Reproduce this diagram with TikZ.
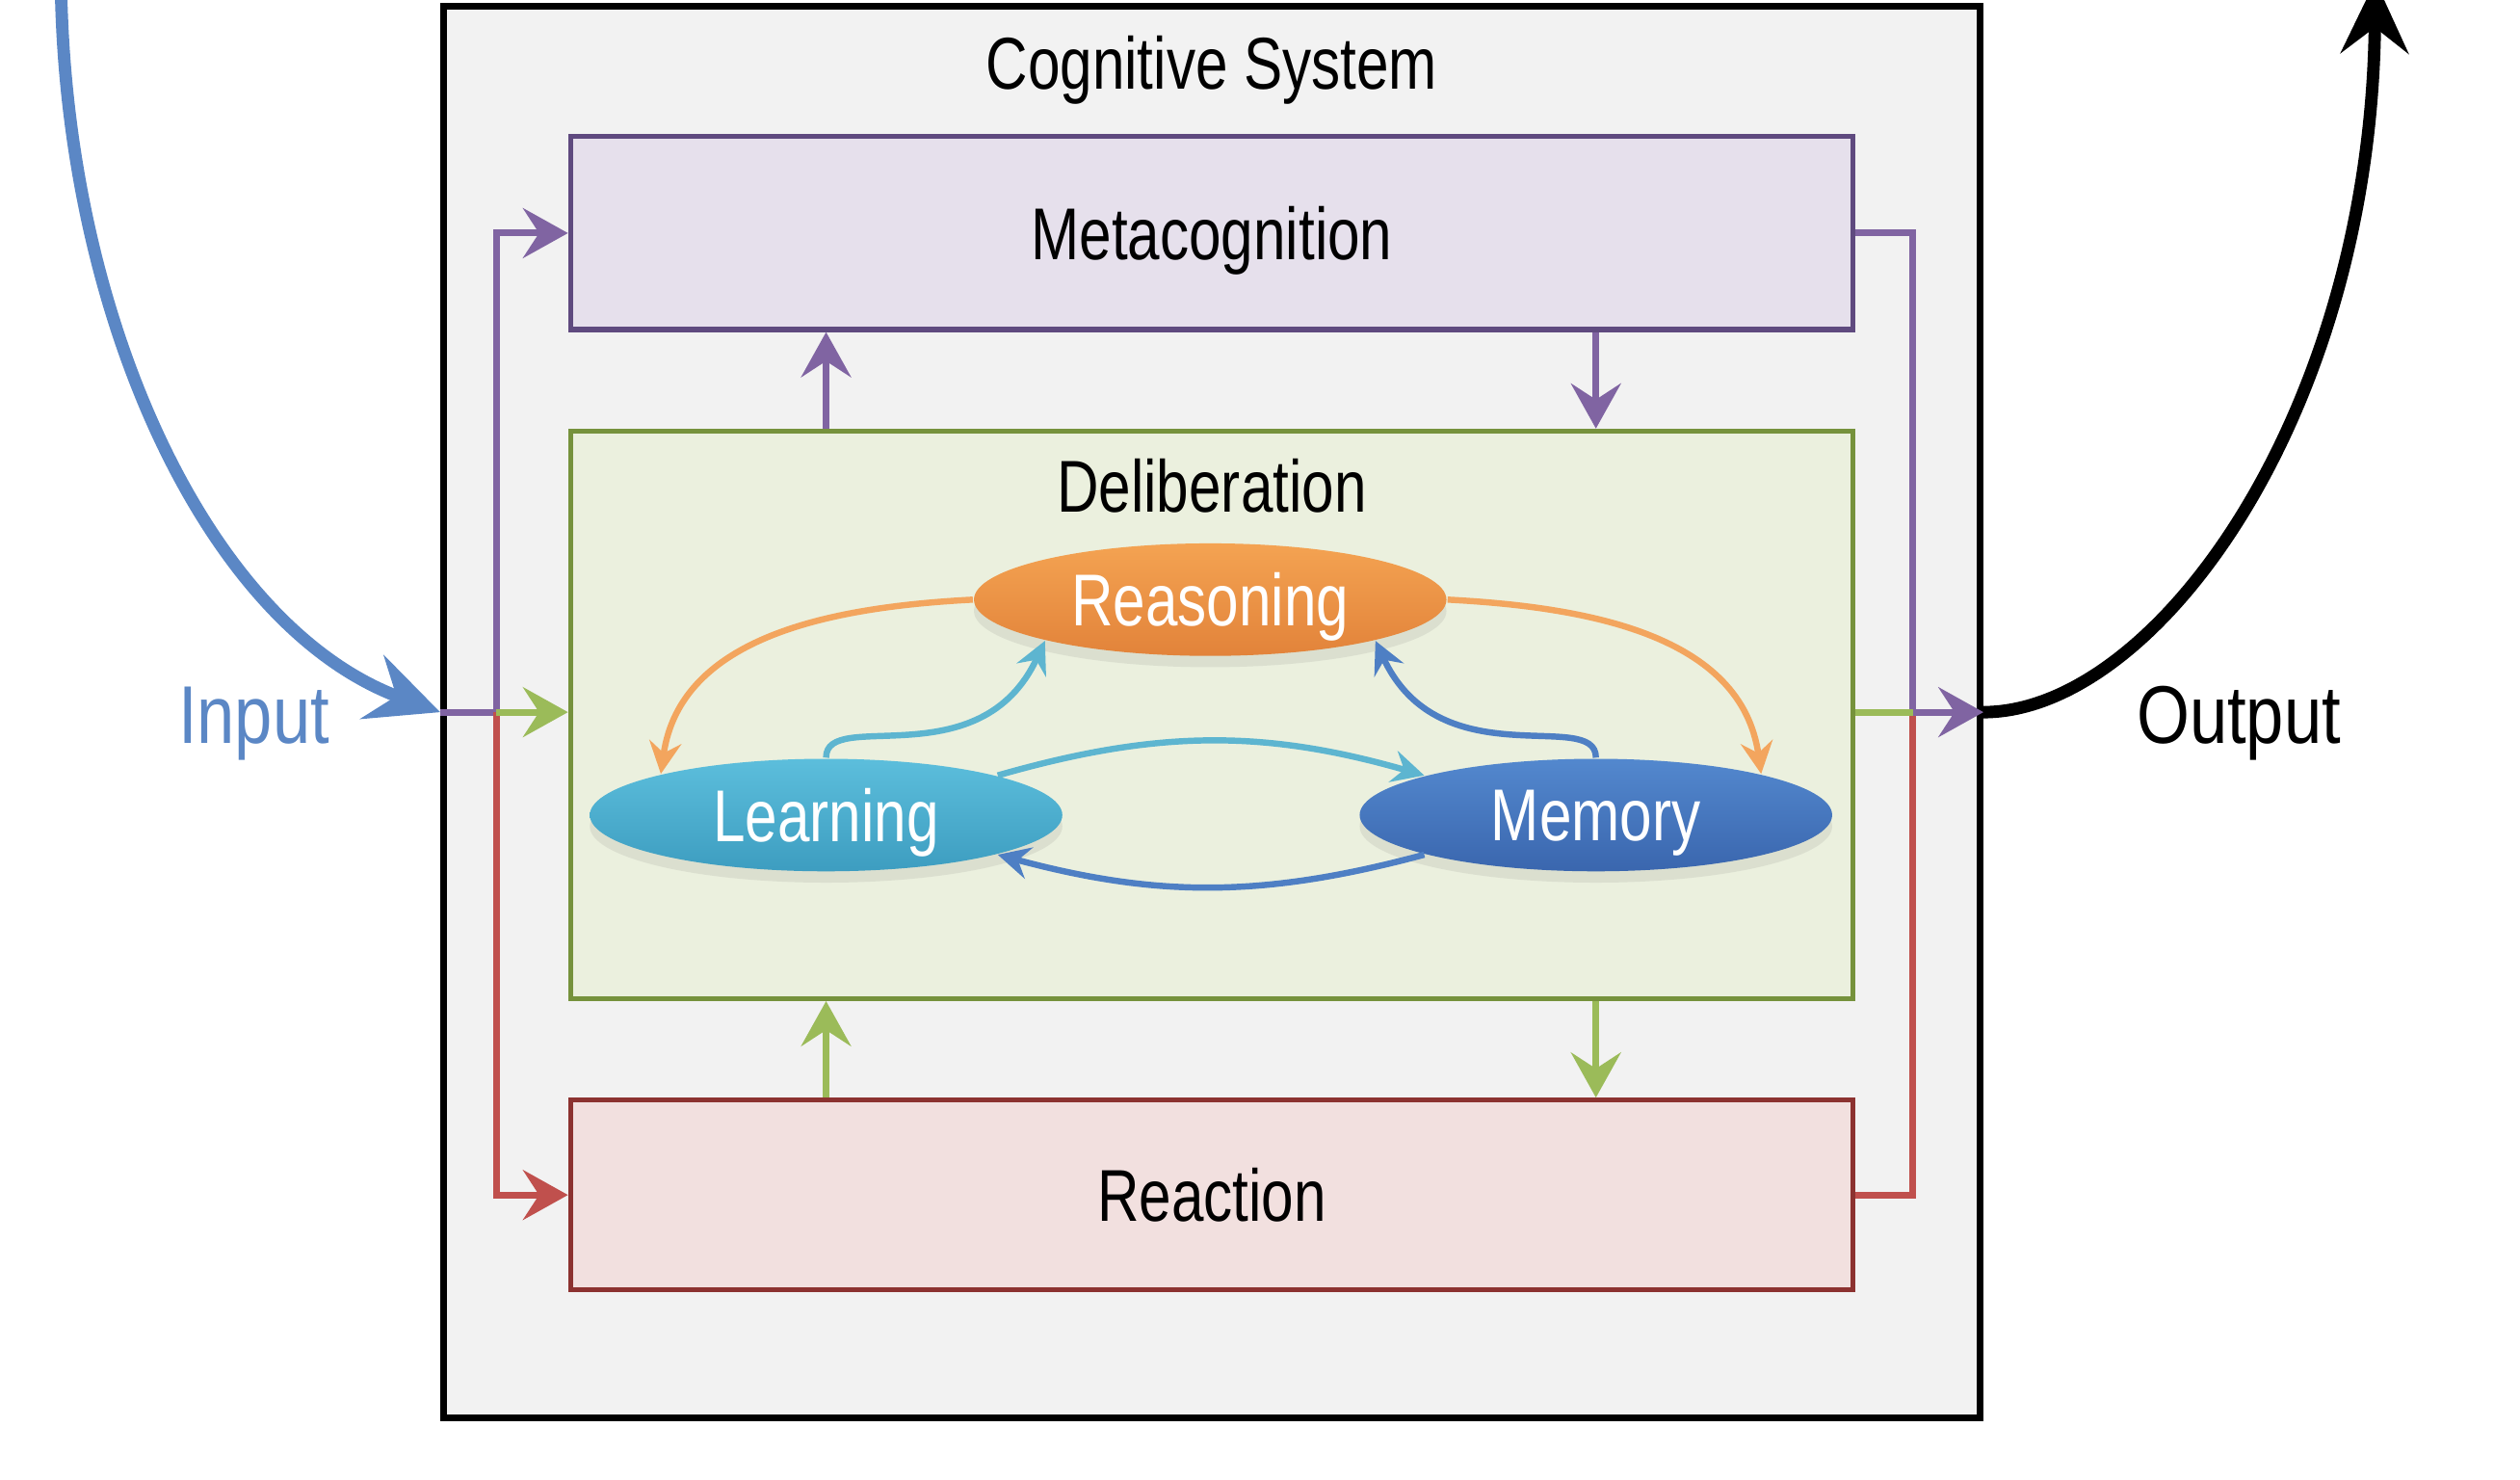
\documentclass[tikz,border=0pt]{standalone}
\usepackage{fontspec}
\setmainfont{Liberation Sans}[FakeStretch=0.79]
\newfontfamily\wideface{Liberation Sans}[FakeStretch=0.83]
\usepackage{xcolor}
\usepackage{tikz}
\usetikzlibrary{shapes.geometric, arrows.meta, positioning, calc, shadows}

\definecolor{sysfill}{HTML}{F2F2F2}
\definecolor{metafill}{HTML}{E6E0EC}
\definecolor{metaline}{HTML}{5F4A7F}
\definecolor{purpleline}{HTML}{8064A2}
\definecolor{delibfill}{HTML}{EBF0DE}
\definecolor{delibline}{HTML}{76923C}
\definecolor{greenline}{HTML}{9BBB59}
\definecolor{reactfill}{HTML}{F2E0DF}
\definecolor{reactline}{HTML}{8C3230}
\definecolor{redline}{HTML}{C0504D}
\definecolor{inblue}{HTML}{5B87C5}
\definecolor{orangeline}{HTML}{F3A55E}
\definecolor{learnline}{HTML}{5DB5D0}
\definecolor{memline}{HTML}{4E7FC4}
\definecolor{reasontop}{HTML}{F4A352}
\definecolor{reasonbot}{HTML}{E2833A}
\definecolor{learntop}{HTML}{5CBEDC}
\definecolor{learnbot}{HTML}{3D9DC0}
\definecolor{memtop}{HTML}{5388CE}
\definecolor{membot}{HTML}{3A66AE}

\begin{document}
\begin{tikzpicture}[
  font=\fontsize{13}{15}\selectfont,
  box/.style={draw, line width=0.9pt, minimum width=7.98cm, inner sep=0, text depth=0pt},
  blob/.style={ellipse, minimum width=2.94cm, minimum height=0.70cm, inner sep=0, text depth=0pt,
    text=white, drop shadow={opacity=0.15, shadow xshift=0pt, shadow yshift=-2pt}},
  wire/.style={line width=1.2pt},
  link/.style={wire, -{Stealth[length=0.28cm, width=0.31cm, inset=0.1cm]}},
  loop/.style={line width=1.1pt, -{Stealth[length=0.2cm, width=0.2cm, inset=0.07cm]}},
  bigarrow/.style={line width=2.2pt, -{Stealth[length=0.45cm, width=0.42cm, inset=0.16cm]}}
]
  \useasboundingbox (0,0) rectangle (15.68,-9.206);

  % Cognitive system frame
  \node (system) [draw=black, line width=1.2pt, fill=sysfill, minimum width=9.56cm,
    minimum height=8.78cm] at (7.54,-4.43) {};
  \node (systitle) [below=0.2cm of system.north, inner sep=0] {Cognitive System};

  % Layers
  \node (meta) [box, draw=metaline, fill=metafill, minimum height=1.2cm] at (7.54,-1.45) {Metacognition};
  \node (delib) [box, draw=delibline, fill=delibfill, minimum height=3.53cm, below=0.6cm of meta] {};
  \node (react) [box, draw=reactline, fill=reactfill, minimum height=1.18cm, below=0.6cm of delib] {Reaction};
  \node (deltitle) [below=0.18cm of delib.north, inner sep=0] {Deliberation};

  % Deliberation parts
  \node (reason) [blob, top color=reasontop, bottom color=reasonbot] at (7.53,-3.73) {Reasoning};
  \node (learn) [blob, top color=learntop, bottom color=learnbot] at (5.14,-5.07) {Learning};
  \node (memory) [blob, top color=memtop, bottom color=membot] at (9.93,-5.07) {Memory};

  % Outside labels
  \node (inlabel) [text=inblue, font=\wideface\fontsize{14.5}{16}\selectfont] at (1.58,-4.5) {Input};
  \node (outlabel) [font=\wideface\fontsize{14.5}{16}\selectfont] at (13.93,-4.5) {Output};

  % Split points
  \coordinate (inStart) at (0.38,0.05);
  \coordinate (outEnd) at (14.78,0.12);
  \coordinate (lsplit) at ($(system.west)+(0.35,0)$);
  \coordinate (rsplit) at ($(system.east)+(-0.44,0)$);

  % Input and output
  \draw[bigarrow, inblue] (inStart) .. controls (0.42,-2.0) and (1.3,-3.9) .. (system.west);
  \draw[bigarrow, black] (system.east) .. controls (13.4,-4.43) and (14.75,-2.6) .. (outEnd);

  % Left side
  \draw[wire, purpleline] (system.west) -- (lsplit);
  \draw[link, redline] (lsplit) |- (react.west);
  \draw[link, purpleline] (lsplit) |- (meta.west);
  \draw[link, greenline] (lsplit) -- (lsplit -| delib.west);

  % Right side
  \draw[wire, redline] (react.east) -| (rsplit);
  \draw[wire, purpleline] (meta.east) -| (rsplit);
  \draw[wire, greenline] (delib.east |- rsplit) -- (rsplit);
  \draw[link, purpleline] (rsplit) -- (system.east);

  % Between layers
  \draw[link, purpleline] (learn |- delib.north) -- (learn |- meta.south);
  \draw[link, purpleline] (memory |- meta.south) -- (memory |- delib.north);
  \draw[link, greenline] (learn |- react.north) -- (learn |- delib.south);
  \draw[link, greenline] (memory |- delib.south) -- (memory |- react.north);

  % Loops inside deliberation
  \draw[loop, orangeline] (reason.west) to[out=183, in=82] (learn.166);
  \draw[loop, orangeline] (reason.east) to[out=-3, in=98] (memory.14);
  \draw[loop, learnline] (learn.north) .. controls (5.14,-4.40) and (6.1,-4.85) .. (reason.194);
  \draw[loop, memline] (memory.north) .. controls (9.93,-4.40) and (8.96,-4.85) .. (reason.-14);
  \draw[loop, learnline] (learn.13) to[bend left=16] (memory.167);
  \draw[loop, memline] (memory.193) to[bend left=15] (learn.-13);
\end{tikzpicture}
\end{document}
